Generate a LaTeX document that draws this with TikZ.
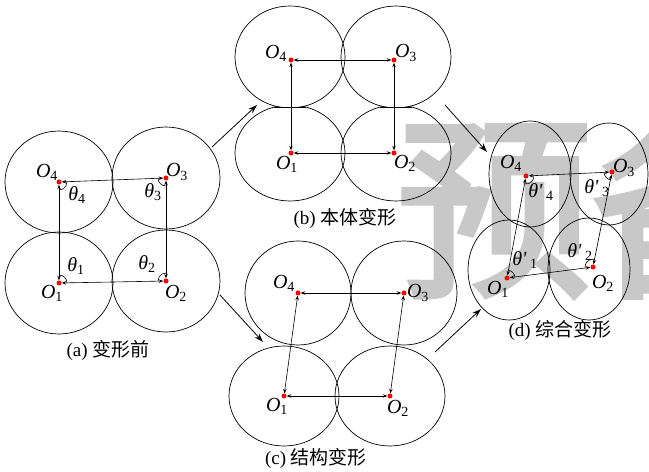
\documentclass[tikz,border=0pt]{standalone}
\usepackage{fontspec}
\setmainfont{Liberation Serif}
\newfontfamily\cjk{Noto Sans CJK SC}
\newfontfamily\cjkwm[FakeBold=3]{Noto Sans CJK SC}
\usetikzlibrary{arrows.meta,angles}
\definecolor{wmgray}{RGB}{200,200,200}
\newcommand{\Olab}[1]{\textit{O}\textsubscript{#1}}
\newcommand{\thlab}[1]{\textit{θ}\textsubscript{#1}}
\newcommand{\thplab}[1]{\textit{θ\textquotesingle}\,\textsubscript{#1}}
\tikzset{
  dot/.style={circle, fill=red, inner sep=0pt, minimum size=5pt},
  lab/.style={inner sep=0pt, font=\fontsize{20}{22}\selectfont},
  caplab/.style={inner sep=0pt, font=\fontsize{19}{21}\selectfont},
  disk/.style={line width=0.7pt},
  link/.style={{Stealth[length=4.5pt,width=3.5pt]}-{Stealth[length=4.5pt,width=3.5pt]}, line width=0.6pt},
  trans/.style={-{Stealth[length=9pt,width=6pt]}, line width=0.8pt},
  ang/.style={draw, angle radius=8pt, line width=0.6pt}
}
\begin{document}
\begin{tikzpicture}[x=1pt, y=1pt]
\useasboundingbox (0,0) rectangle (649,472);
\begin{scope}
\clip (0,0) rectangle (649,472);
\node[text=wmgray, inner sep=0pt, font=\cjkwm\fontsize{195}{195}\selectfont] (wm) at (592,265) {预备};
\end{scope}

% (a)
\node[dot] (a1) at (59,189) {};
\node[dot] (a2) at (166,191) {};
\node[dot] (a3) at (166,294) {};
\node[dot] (a4) at (59,290) {};
\foreach \p in {a1,a2,a3,a4}
  \draw[disk] (\p) ellipse (54pt and 51pt);
\draw[link] (a1) -- (a2);
\draw[link] (a2) -- (a3);
\draw[link] (a3) -- (a4);
\draw[link] (a4) -- (a1);
\pic[ang] {angle=a2--a1--a4};
\pic[ang] {angle=a3--a2--a1};
\pic[ang] {angle=a4--a3--a2};
\pic[ang] {angle=a1--a4--a3};
\node[lab] (a1l) at (52,179) {\Olab{1}};
\node[lab] (a2l) at (176,179) {\Olab{2}};
\node[lab] (a3l) at (177,300) {\Olab{3}};
\node[lab] (a4l) at (47,300) {\Olab{4}};
\node[lab] (a1t) at (76,206) {\thlab{1}};
\node[lab] (a2t) at (147,208) {\thlab{2}};
\node[lab] (a3t) at (153,280) {\thlab{3}};
\node[lab] (a4t) at (77,277) {\thlab{4}};
\node[caplab] (acap) at (108,122) {(a) {\cjk 变形前}};

% (b)
\node[dot] (b1) at (291,319) {};
\node[dot] (b2) at (394,319) {};
\node[dot] (b3) at (394,412) {};
\node[dot] (b4) at (291,412) {};
\begin{scope}
\clip (220,365) rectangle (460,472);
\draw[disk] (290,415) ellipse (55pt and 51pt);
\draw[disk] (396,415) ellipse (55pt and 51pt);
\end{scope}
\begin{scope}
\clip (220,365) rectangle (460,260);
\draw[disk] (290,319) ellipse (55pt and 48pt);
\draw[disk] (396,319) ellipse (55pt and 48pt);
\end{scope}
\draw[disk] (274.3,365) -- (305.7,365);
\draw[disk] (380.3,365) -- (411.7,365);
\draw[link] (b1) -- (b2);
\draw[link] (b2) -- (b3);
\draw[link] (b3) -- (b4);
\draw[link] (b4) -- (b1);
\node[lab] (b1l) at (287,308) {\Olab{1}};
\node[lab] (b2l) at (405,309) {\Olab{2}};
\node[lab] (b3l) at (406,419) {\Olab{3}};
\node[lab] (b4l) at (276,419) {\Olab{4}};
\node[caplab] (bcap) at (345,254) {(b) {\cjk 本体变形}};

% (c)
\node[dot] (c1) at (284,76) {};
\node[dot] (c2) at (390,76) {};
\node[dot] (c3) at (404,179) {};
\node[dot] (c4) at (298,179) {};
\draw[disk] (c1) ellipse (55pt and 50pt);
\draw[disk] (c2) ellipse (55pt and 50pt);
\draw[disk] (c3) ellipse (53pt and 52pt);
\draw[disk] (c4) ellipse (53pt and 52pt);
\draw[link] (c1) -- (c2);
\draw[link] (c2) -- (c3);
\draw[link] (c3) -- (c4);
\draw[link] (c4) -- (c1);
\node[lab] (c1l) at (277,66) {\Olab{1}};
\node[lab] (c2l) at (398,64) {\Olab{2}};
\node[lab] (c3l) at (418,179) {\Olab{3}};
\node[lab] (c4l) at (284,189) {\Olab{4}};
\node[caplab] (ccap) at (316,14) {(c) {\cjk 结构变形}};

% (d)
\node[dot] (d1) at (507,194) {};
\node[dot] (d2) at (593,205) {};
\node[dot] (d3) at (612,300) {};
\node[dot] (d4) at (526,296) {};
\draw[disk] (509,202) ellipse (41pt and 50pt);
\draw[disk] (589,203) ellipse (41pt and 51pt);
\draw[disk] (609,298) ellipse (39pt and 51pt);
\draw[disk] (530,298) ellipse (41pt and 53pt);
\draw[link] (d1) -- (d2);
\draw[link] (d2) -- (d3);
\draw[link] (d3) -- (d4);
\draw[link] (d4) -- (d1);
\pic[ang] {angle=d2--d1--d4};
\pic[ang] {angle=d3--d2--d1};
\pic[ang] {angle=d4--d3--d2};
\pic[ang] {angle=d1--d4--d3};
\node[lab] (d1l) at (498,183) {\Olab{1}};
\node[lab] (d2l) at (603,189) {\Olab{2}};
\node[lab] (d3l) at (624,304) {\Olab{3}};
\node[lab] (d4l) at (511,309) {\Olab{4}};
\node[lab] (d1t) at (525,212) {\thplab{1}};
\node[lab] (d2t) at (580,220) {\thplab{2}};
\node[lab] (d3t) at (597,284) {\thplab{3}};
\node[lab] (d4t) at (541,280) {\thplab{4}};
\node[caplab] (dcap) at (560,142) {(d) {\cjk 综合变形}};

% transitions
\coordinate (ab0) at (212,325);
\coordinate (ab1) at (257,367);
\coordinate (ac0) at (220,177);
\coordinate (ac1) at (263,130);
\coordinate (bd0) at (445,367);
\coordinate (bd1) at (487,320);
\coordinate (cd0) at (435,120);
\coordinate (cd1) at (481,163);
\draw[trans] (ab0) -- (ab1);
\draw[trans] (ac0) -- (ac1);
\draw[trans] (bd0) -- (bd1);
\draw[trans] (cd0) -- (cd1);
\end{tikzpicture}
\end{document}
